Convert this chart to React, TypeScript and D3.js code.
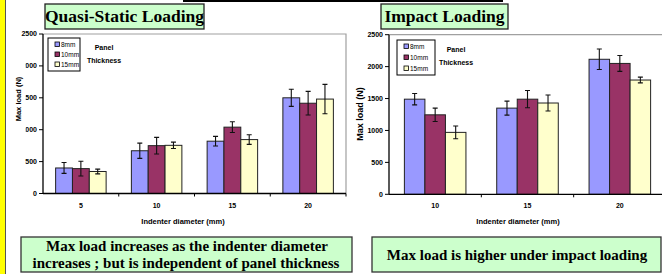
import * as d3 from 'd3'

// ── data ─────────────────────────────────────────────────────────────────────
const THICKNESS     = ['8mm', '10mm', '15mm']
const Y_TICKS       = [0, 500, 1000, 1500, 2000, 2500]

const QS_DIAMETERS  = ['5', '10', '15', '20']
const QS_8MM        = [400, 670, 820, 1500]
const QS_10MM       = [390, 750, 1040, 1415]
const QS_15MM       = [345, 755, 845, 1480]
const QS_ERR_8MM    = [85, 120, 75, 135]
const QS_ERR_10MM   = [115, 130, 85, 185]
const QS_ERR_15MM   = [37, 50, 75, 230]

const IMP_DIAMETERS = ['10', '15', '20']
const IMP_8MM       = [1490, 1350, 2115]
const IMP_10MM      = [1245, 1490, 2050]
const IMP_15MM      = [970, 1430, 1790]
const IMP_ERR_8MM   = [90, 110, 160]
const IMP_ERR_10MM  = [105, 135, 125]
const IMP_ERR_15MM  = [100, 125, 45]

// ── style ────────────────────────────────────────────────────────────────────
const COLORS  = ['#9999ff', '#993366', '#ffffcc']
const GREEN   = '#ccffcc'
const SANS    = '"Liberation Sans", Arial, sans-serif'
const NARROW  = '"Liberation Sans Narrow", "Liberation Sans", Arial, sans-serif'
const SERIF   = '"Liberation Serif", "Times New Roman", serif'

type ChartProps = {
  cats:    string[]
  values:  number[][]
  errors:  number[][]
  left:    number
  right:   number
  top:     number
  bottom:  number
  font:    string
  xTitleX: number
  yTitle:  { x: number; y: number; size: number }
  legend:  { x: number; y: number; w: number; h: number; gap: number; px: number; py: number }
  mask?:   { x: number; y: number; w: number; h: number }
}

function BarChart({ cats, values, errors, left, right, top, bottom, font, xTitleX, yTitle, legend, mask }: ChartProps) {
  const x  = d3.scaleBand<string>().domain(cats).range([left, right])
  const xs = d3.scaleBand<string>().domain(THICKNESS).range([0, x.bandwidth()]).paddingOuter(0.75)
  const y  = d3.scaleLinear().domain([0, 2500]).range([bottom, top])
  const bw = xs.bandwidth()
  const cap = 2.5

  return (
    <g>
      {/* plot-area border */}
      <path d={`M${left},${top}H${right}V${bottom}`} fill="none" stroke="#a0a0a0" strokeWidth={1.2} />

      {/* bars + error bars */}
      {THICKNESS.map((t, si) => (
        <g key={t}>
          {cats.map((c, ci) => {
            const bx = (x(c) ?? 0) + (xs(t) ?? 0)
            const v  = values[si][ci]
            const e  = errors[si][ci]
            const cx = bx + bw / 2
            return (
              <g key={c}>
                <rect x={bx} y={y(v)} width={bw} height={y(0) - y(v)}
                  fill={COLORS[si]} stroke="#222" strokeWidth={1} />
                <path d={`M${cx},${y(v + e)}V${y(v - e)}M${cx - cap},${y(v + e)}H${cx + cap}M${cx - cap},${y(v - e)}H${cx + cap}`}
                  stroke="#111" strokeWidth={1.1} fill="none" />
              </g>
            )
          })}
        </g>
      ))}

      {/* y axis */}
      <line x1={left} x2={left} y1={top} y2={bottom} stroke="#000" strokeWidth={1.3} />
      {Y_TICKS.map(v => (
        <g key={v}>
          <line x1={left - 4} x2={left} y1={y(v)} y2={y(v)} stroke="#000" strokeWidth={1} />
          <text x={left - 6} y={y(v)} dy="0.35em" textAnchor="end" fontFamily={font}
            fontWeight="bold" fontSize={7}>{v}</text>
        </g>
      ))}

      {/* x axis */}
      <line x1={left} x2={right} y1={bottom} y2={bottom} stroke="#000" strokeWidth={1.3} />
      {cats.map(c => (
        <g key={c}>
          <line x1={(x(c) ?? 0) + x.bandwidth()} x2={(x(c) ?? 0) + x.bandwidth()} y1={bottom} y2={bottom + 3} stroke="#000" />
          <text x={(x(c) ?? 0) + x.bandwidth() / 2} y={bottom + 14} textAnchor="middle" fontFamily={font}
            fontWeight="bold" fontSize={7}>{c}</text>
        </g>
      ))}

      {/* axis titles */}
      {mask && <rect x={mask.x} y={mask.y} width={mask.w} height={mask.h} fill="#fff" />}
      <text transform={`translate(${yTitle.x},${yTitle.y}) rotate(-90)`} textAnchor="middle" fontFamily={font}
        fontWeight="bold" fontSize={yTitle.size}>Max load (N)</text>
      <text x={xTitleX} y={bottom + 30} textAnchor="middle" fontFamily={SANS}
        fontWeight="bold" fontSize={7.5}>Indenter diameter (mm)</text>

      {/* legend */}
      <rect x={legend.x} y={legend.y} width={legend.w} height={legend.h} fill="#fff" stroke="#000" strokeWidth={1} />
      {THICKNESS.map((t, i) => (
        <g key={t}>
          <rect x={legend.x + 7} y={legend.y + 4 + i * legend.gap} width={4.5} height={4.5}
            fill={COLORS[i]} stroke="#000" strokeWidth={0.8} />
          <text x={legend.x + 13} y={legend.y + 8.6 + i * legend.gap} fontFamily={font} fontSize={6.5}>{t}</text>
        </g>
      ))}
      <text x={legend.px} y={legend.py} textAnchor="middle" fontFamily={SANS} fontWeight="bold" fontSize={7}>Panel</text>
      <text x={legend.px} y={legend.py + 13} textAnchor="middle" fontFamily={SANS} fontWeight="bold" fontSize={7}>Thickness</text>
    </g>
  )
}

function TitleBox({ x, y, w, h, label, size }: { x: number; y: number; w: number; h: number; label: string; size: number }) {
  return (
    <g>
      <rect x={x} y={y} width={w} height={h} fill={GREEN} stroke="#222" strokeWidth={1.3} />
      <text x={x + w / 2} y={y + h / 2} dy="0.34em" textAnchor="middle" fontFamily={SERIF}
        fontWeight="bold" fontSize={size}>{label}</text>
    </g>
  )
}

export default function App() {
  return (
    <svg width={662} height={274} viewBox="0 0 662 274"
      style={{ position: 'absolute', left: 0, top: 0, display: 'block', background: '#fff' }}>
      {/* side strip and top rule */}
      <rect x={0} y={0} width={5.5} height={274} fill="#ffff00" />
      <line x1={5.5} x2={5.5} y1={0} y2={274} stroke="#555" strokeWidth={1} />
      <line x1={183} x2={503} y1={1} y2={1} stroke="#000" strokeWidth={2} />

      <BarChart
        cats={QS_DIAMETERS}
        values={[QS_8MM, QS_10MM, QS_15MM]}
        errors={[QS_ERR_8MM, QS_ERR_10MM, QS_ERR_15MM]}
        left={43} right={346} top={34} bottom={193.5}
        font={SANS}
        xTitleX={183}
        yTitle={{ x: 21, y: 99, size: 7.5 }}
        legend={{ x: 48, y: 38, w: 32, h: 33, gap: 10, px: 104, py: 50 }}
        mask={{ x: 11, y: 58, w: 14.5, h: 80 }}
      />
      <BarChart
        cats={IMP_DIAMETERS}
        values={[IMP_8MM, IMP_10MM, IMP_15MM]}
        errors={[IMP_ERR_8MM, IMP_ERR_10MM, IMP_ERR_15MM]}
        left={389} right={666} top={34.7} bottom={194.3}
        font={NARROW}
        xTitleX={518}
        yTitle={{ x: 362.5, y: 114, size: 9 }}
        legend={{ x: 397, y: 40, w: 38, h: 35, gap: 11, px: 456, py: 52 }}
      />

      <TitleBox x={45} y={4} w={159} h={25} label="Quasi-Static Loading" size={17.5} />
      <TitleBox x={381} y={4} w={127} h={25} label="Impact Loading" size={17.5} />

      {/* conclusions */}
      <rect x={21} y={237} width={331} height={35} fill={GREEN} stroke="#333" strokeWidth={1.3} />
      <text x={187} y={251} textAnchor="middle" fontFamily={SERIF} fontWeight="bold" fontSize={15}>
        Max load increases as the indenter diameter
      </text>
      <text x={186} y={268} textAnchor="middle" fontFamily={SERIF} fontWeight="bold" fontSize={15}>
        increases ; but is independent of panel thickness
      </text>
      <rect x={372} y={237} width={289} height={35} fill={GREEN} stroke="#333" strokeWidth={1.3} />
      <text x={517} y={259.5} textAnchor="middle" fontFamily={SERIF} fontWeight="bold" fontSize={15}>
        Max load is higher under impact loading
      </text>
    </svg>
  )
}
